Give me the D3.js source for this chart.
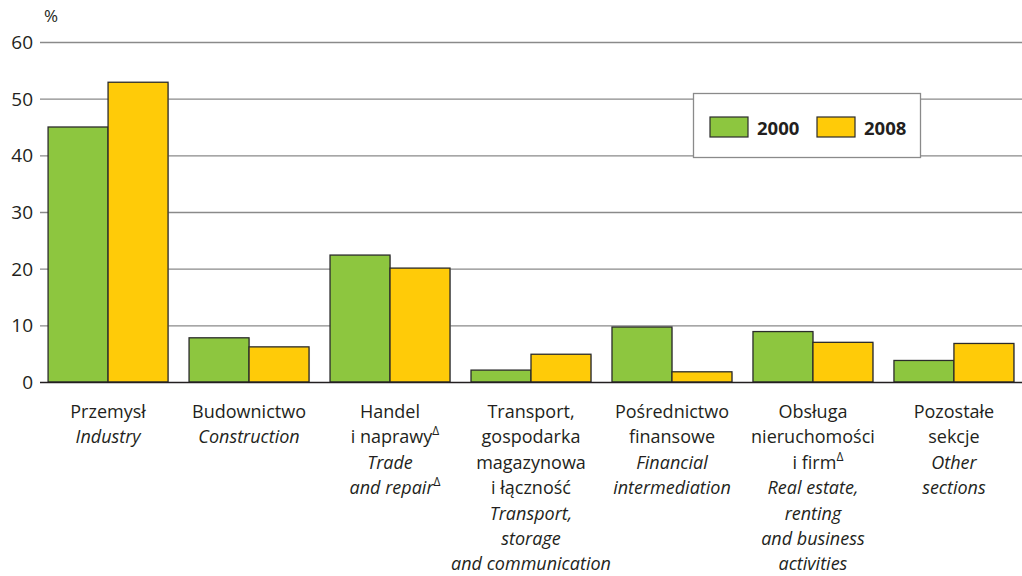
<!DOCTYPE html>
<html><head><meta charset="utf-8">
<script src="https://cdn.jsdelivr.net/npm/d3@7"></script>
<style>body{margin:0;background:#fff}svg{display:block}text{font-family:"Open Sans","Noto Sans",sans-serif;fill:#231f20}</style>
</head><body><svg id="c" width="1022" height="576"></svg>
<script>
const categories = ["Przemysł","Budownictwo","Handel","Transport","Pośrednictwo","Obsługa","Pozostałe"];
// label lines: [text, italic, superscript-delta]
const labelsPL = [
  [["Przemysł"]],
  [["Budownictwo"]],
  [["Handel"],["i naprawy",0,1]],
  [["Transport,"],["gospodarka"],["magazynowa"],["i łączność"]],
  [["Pośrednictwo"],["finansowe"]],
  [["Obsługa"],["nieruchomości"],["i firm",0,1]],
  [["Pozostałe"],["sekcje"]]
];
const labelsEN = [
  [["Industry"]],
  [["Construction"]],
  [["Trade"],["and repair",1,1]],
  [["Transport,"],["storage"],["and communication"]],
  [["Financial"],["intermediation"]],
  [["Real estate,"],["renting"],["and business"],["activities"]],
  [["Other"],["sections"]]
];
const seriesNames = ["2000","2008"];
const values2000 = [45.0, 7.8, 22.4, 2.1, 9.7, 8.9, 3.8];
const values2008 = [52.9, 6.2, 20.1, 4.9, 1.8, 7.0, 6.8];
const yTicks = [0,10,20,30,40,50,60];
const colors = ["#8dc63f","#ffcb08"];

const svg = d3.select("#c");
const x0 = 40, x1 = 1022, yZero = 382, yTop = 42;
const x = d3.scaleBand().domain(categories).range([37.5, 1024.5]).paddingInner(0.149).paddingOuter(0.075);
const xs = d3.scaleBand().domain(seriesNames).range([0, x.bandwidth()]);
const y = d3.scaleLinear().domain([0,60]).range([yZero, yTop]);

// gridlines
svg.append("g").selectAll("line").data(yTicks.filter(d=>d>0)).join("line")
  .attr("x1", x0).attr("x2", x1).attr("y1", d=>y(d)+0.5).attr("y2", d=>y(d)+0.5)
  .attr("stroke","#8a8a8a").attr("stroke-width",1.3);
// tick labels
svg.append("g").selectAll("text").data(yTicks).join("text")
  .attr("x", 33).attr("y", d=>y(d)+7).attr("text-anchor","end")
  .style("font-size","19px").text(d=>d);
svg.append("text").attr("x",44).attr("y",22).style("font-size","17px").text("%");

// bars
const rows = categories.map((c,i)=>({c, v:[values2000[i], values2008[i]]}));
const g = svg.append("g");
rows.forEach(r=>{
  r.v.forEach((v,j)=>{
    g.append("rect").attr("x", x(r.c)+xs(seriesNames[j])+1).attr("y", y(v)+1)
      .attr("width", xs.bandwidth()).attr("height", yZero - y(v))
      .attr("fill","#bdbdbd").attr("opacity",0.6);
    g.append("rect").attr("x", x(r.c)+xs(seriesNames[j])).attr("y", y(v))
      .attr("width", xs.bandwidth()).attr("height", yZero - y(v))
      .attr("fill", colors[j]).attr("stroke","#2b2b2b").attr("stroke-width",1.3);
  });
});
// zero axis
svg.append("line").attr("x1",x0).attr("x2",x1).attr("y1",yZero+0.5).attr("y2",yZero+0.5)
  .attr("stroke","#231f20").attr("stroke-width",1.5);

// category labels
const lh = 25.4;
categories.forEach((c,i)=>{
  const cx = x(c) + x.bandwidth()/2;
  const lines = labelsPL[i].map(l=>[l[0],0,l[2]||0]).concat(labelsEN[i].map(l=>[l[0],1,l[2]||0]));
  lines.forEach((l,k)=>{
    const t = svg.append("text").attr("x", cx + (l[2]?5:0)).attr("y", 418 + k*lh)
      .attr("text-anchor","middle").style("font-size","18px")
      .style("font-style", l[1] ? "italic" : "normal");
    t.append("tspan").text(l[0]);
    if (l[2]) t.append("tspan").attr("dy",-8).style("font-size","12px").style("font-style","normal").text("Δ");
  });
});

// legend
const lg = svg.append("g");
lg.append("rect").attr("x",693.5).attr("y",93.5).attr("width",227).attr("height",64)
  .attr("fill","#fff").attr("stroke","#8a8a8a").attr("stroke-width",1.3);
const legX = [710, 817];
seriesNames.forEach((s,j)=>{
  lg.append("rect").attr("x",legX[j]).attr("y",117).attr("width",38).attr("height",20)
    .attr("fill",colors[j]).attr("stroke","#2b2b2b").attr("stroke-width",1.2);
  lg.append("text").attr("x",legX[j]+47).attr("y",134.5).style("font-size","18.5px")
    .style("font-weight","bold").text(s);
});
</script></body></html>
